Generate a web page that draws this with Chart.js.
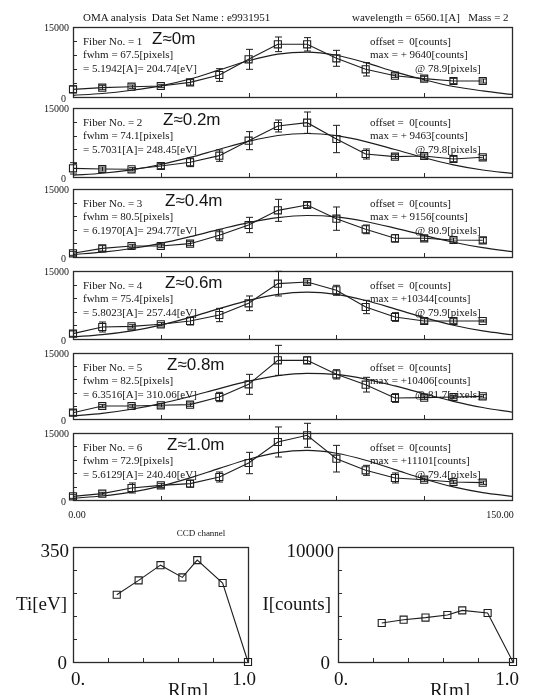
<!DOCTYPE html>
<html>
<head>
<meta charset="utf-8">
<script src="https://cdn.jsdelivr.net/npm/chart.js"></script>
<style>
  body { margin: 0; background: #fff; width: 548px; height: 695px; position: relative; overflow: hidden; }
  canvas { position: absolute; left: 0; }
  .t { position: absolute; white-space: pre; color: #151515; font-family: "Liberation Serif", serif; line-height: 1; }
  .z { font-family: "Liberation Sans", sans-serif; }
</style>
</head>
<body>
<script>
  // CCD channel of each measured point, and of the fitted curve samples
  const channels = [0, 10, 20, 30, 40, 50, 60, 70, 80, 90, 100, 110, 120, 130, 140];
  const fitChannels = [0, 10, 20, 30, 40, 50, 60, 70, 80, 90, 100, 110, 120, 130, 140, 150];

  // counts per fiber, error bars, fitted curve
  const fiber1 = [1640, 2000, 2210, 2360, 3140, 4710, 8070, 11290, 11290, 8290, 5930, 4570, 3930, 3430, 3430];
  const err1 = [710, 430, 360, 360, 570, 1360, 2140, 1570, 1430, 1710, 1430, 360, 500, 570, 430];
  const fit1 = [360, 750, 1450, 2400, 3850, 5800, 7760, 9190, 9630, 8940, 7350, 5400, 3700, 2250, 1300, 550];

  const fiber2 = [1880, 1740, 1670, 2390, 3190, 4640, 7900, 11090, 11810, 8260, 5000, 4420, 4570, 3910, 4280];
  const err2 = [1230, 430, 360, 580, 940, 1230, 1960, 1300, 2320, 2970, 1090, 430, 430, 580, 430];
  const fit2 = [380, 810, 1560, 2710, 4250, 6040, 7760, 9020, 9460, 8980, 7700, 5970, 4190, 2650, 1520, 790];

  const fiber3 = [810, 1910, 2430, 2430, 2940, 4780, 7060, 10290, 11470, 8460, 6100, 4120, 4120, 3750, 3680];
  const err3 = [440, 590, 370, 370, 440, 1180, 1690, 2430, 590, 2570, 960, 810, 510, 440, 590];
  const fit3 = [560, 1070, 1870, 3020, 4480, 6090, 7600, 8700, 9150, 8840, 7830, 6370, 4760, 3260, 2050, 1190];

  const fiber4 = [1180, 2650, 2790, 3240, 3970, 5290, 7870, 12210, 12570, 10740, 7060, 4850, 3970, 3970, 3970];
  const err4 = [590, 1100, 370, 370, 880, 1470, 1620, 2720, 440, 1100, 1470, 960, 510, 510, 220];
  const fit4 = [460, 960, 1800, 3070, 4760, 6690, 8530, 9860, 10340, 9840, 8490, 6650, 4720, 3040, 1780, 940];

  const fiber5 = [1440, 2950, 2950, 3110, 3260, 5000, 7880, 13330, 13330, 10150, 7800, 4770, 4850, 5000, 5150];
  const err5 = [610, 380, 380, 380, 380, 1060, 2270, 3410, 760, 1060, 1670, 990, 380, 380, 380];
  const fit5 = [690, 1280, 2210, 3500, 5120, 6910, 8590, 9840, 10390, 10120, 9080, 7510, 5720, 4020, 2610, 1560];

  const fiber6 = [820, 1420, 2690, 3280, 3660, 5150, 8280, 12990, 14480, 9250, 6640, 4930, 4550, 4030, 3880];
  const err6 = [450, 300, 1120, 450, 750, 1120, 2390, 3360, 2690, 2980, 1120, 1120, 370, 370, 370];
  const fit6 = [410, 900, 1760, 3110, 4940, 7070, 9120, 10600, 11100, 10470, 8900, 6810, 4700, 2920, 1640, 830];

  // radial profiles (bottom)
  const rPositions = [0.25, 0.375, 0.5, 0.625, 0.71, 0.855, 1.0];
  const tiValues = [204.74, 248.45, 294.77, 257.44, 310.06, 240.40, 0];
  const intensity = [3390, 3680, 3860, 4090, 4490, 4260, 0];

  // tick values
  const countTicks = [0, 3000, 6000, 9000, 12000, 15000];
  const channelTicks = [0, 30, 60, 90, 120, 150];
  const tiTicks = [0, 70, 140, 210, 280, 350];
  const iTicks = [0, 2000, 4000, 6000, 8000, 10000];
  const rTicks = [0, 0.2, 0.4, 0.6, 0.8, 1.0];

  // panel texts
  const fiberLabels = ['Fiber No. = 1', 'Fiber No. = 2', 'Fiber No. = 3', 'Fiber No. = 4', 'Fiber No. = 5', 'Fiber No. = 6'];
  const zLabels = ['Z≈0m', 'Z≈0.2m', 'Z≈0.4m', 'Z≈0.6m', 'Z≈0.8m', 'Z≈1.0m'];
  const fwhmLabels = ['fwhm = 67.5[pixels]', 'fwhm = 74.1[pixels]', 'fwhm = 80.5[pixels]', 'fwhm = 75.4[pixels]', 'fwhm = 82.5[pixels]', 'fwhm = 72.9[pixels]'];
  const widthLabels = ['= 5.1942[A]= 204.74[eV]', '= 5.7031[A]= 248.45[eV]', '= 6.1970[A]= 294.77[eV]', '= 5.8023[A]= 257.44[eV]', '= 6.3516[A]= 310.06[eV]', '= 5.6129[A]= 240.40[eV]'];
  const maxLabels = ['max = + 9640[counts]', 'max = + 9463[counts]', 'max = + 9156[counts]', 'max = +10344[counts]', 'max = +10406[counts]', 'max = +11101[counts]'];
  const peakLabels = ['@ 78.9[pixels]', '@ 79.8[pixels]', '@ 80.9[pixels]', '@ 79.9[pixels]', '@ 81.7[pixels]', '@ 79.4[pixels]'];

  const fibers = [fiber1, fiber2, fiber3, fiber4, fiber5, fiber6];
  const errs = [err1, err2, err3, err4, err5, err6];
  const fits = [fit1, fit2, fit3, fit4, fit5, fit6];

  // layout
  const panelTops = [27, 108, 189, 271, 353, 433];
  const panelBottoms = [97, 177, 257, 339, 419, 500];
  const zX = [152, 163, 165, 165, 167, 167];
  const INK = '#1e1e1e';

  const framePlugin = {
    id: 'frame',
    beforeDatasetsDraw(chart, args, opts) {
      const { ctx, chartArea: a, scales: { x, y } } = chart;
      ctx.save();
      ctx.strokeStyle = '#2b2b2b';
      ctx.lineWidth = 1.3;
      ctx.strokeRect(a.left + 0.5, a.top + 0.5, a.right - a.left, a.bottom - a.top);
      ctx.lineWidth = 1;
      ctx.beginPath();
      opts.yTicks.forEach(v => {
        const py = Math.round(y.getPixelForValue(v)) + 0.5;
        ctx.moveTo(a.left, py); ctx.lineTo(a.left + 4, py);
      });
      opts.xTicks.forEach(v => {
        const px = Math.round(x.getPixelForValue(v)) + 0.5;
        ctx.moveTo(px, a.bottom); ctx.lineTo(px, a.bottom - 4);
      });
      ctx.stroke();
      ctx.restore();
    }
  };

  const errorBarPlugin = {
    id: 'errorBars',
    afterDatasetsDraw(chart) {
      const { ctx, scales: { y } } = chart;
      ctx.save();
      ctx.strokeStyle = INK;
      ctx.lineWidth = 1;
      chart.data.datasets.forEach((ds, i) => {
        if (!ds.errorBars) return;
        chart.getDatasetMeta(i).data.forEach((pt, j) => {
          const v = ds.data[j].y, e = ds.errorBars[j];
          const y1 = y.getPixelForValue(v + e), y2 = y.getPixelForValue(v - e);
          const px = Math.round(pt.x) + 0.5;
          ctx.beginPath();
          ctx.moveTo(px, y1); ctx.lineTo(px, y2);
          ctx.moveTo(px - 3.5, y1); ctx.lineTo(px + 3.5, y1);
          ctx.moveTo(px - 3.5, y2); ctx.lineTo(px + 3.5, y2);
          ctx.stroke();
        });
      });
      ctx.restore();
    }
  };

  function makeChart(box, xRange, yRange, datasets, xTicks, yTicks) {
    const pad = 12;
    const c = document.createElement('canvas');
    c.width = 548;
    c.height = box.bottom - box.top + 2 * pad;
    c.style.top = (box.top - pad) + 'px';
    document.body.appendChild(c);
    return new Chart(c, {
      type: 'line',
      data: { datasets },
      options: {
        responsive: false,
        animation: false,
        devicePixelRatio: 1,
        layout: { padding: { left: box.left, right: 548 - box.right, top: pad, bottom: pad } },
        scales: {
          x: { type: 'linear', display: false, min: xRange[0], max: xRange[1] },
          y: { type: 'linear', display: false, min: yRange[0], max: yRange[1] }
        },
        plugins: {
          legend: { display: false },
          tooltip: { enabled: false },
          frame: { xTicks, yTicks }
        }
      },
      plugins: [framePlugin, errorBarPlugin]
    });
  }

  function markerSet(xs, ys, extra) {
    return Object.assign({
      data: xs.map((x, i) => ({ x, y: ys[i] })),
      borderColor: INK,
      borderWidth: 1.1,
      tension: 0,
      pointStyle: 'rect',
      pointRadius: 5,
      pointBorderWidth: 1.1,
      pointBorderColor: INK,
      pointBackgroundColor: 'rgba(0,0,0,0)',
      clip: false
    }, extra || {});
  }

  function text(str, x, y, size, align, cls) {
    const d = document.createElement('div');
    d.className = 't' + (cls ? ' ' + cls : '');
    d.textContent = str;
    d.style.fontSize = size + 'px';
    d.style.top = (y - size / 2) + 'px';
    if (align === 'right') d.style.right = (548 - x) + 'px';
    else if (align === 'center') { d.style.left = x + 'px'; d.style.transform = 'translateX(-50%)'; }
    else d.style.left = x + 'px';
    document.body.appendChild(d);
  }

  // six fiber panels
  for (let p = 0; p < 6; p++) {
    const T = panelTops[p], B = panelBottoms[p];
    makeChart({ left: 73, right: 512, top: T, bottom: B }, [0, 150], [0, 15000], [
      {
        data: fitChannels.map((x, i) => ({ x, y: fits[p][i] })),
        borderColor: INK, borderWidth: 1.2, pointRadius: 0,
        cubicInterpolationMode: 'monotone'
      },
      markerSet(channels, fibers[p], { errorBars: errs[p] })
    ], channelTicks, countTicks);

    text('15000', 69, T + 1, 10, 'right');
    text('0', 66, B + 2, 10, 'right');
    text(fiberLabels[p], 83, T + 14, 11);
    text(fwhmLabels[p], 83, T + 27.5, 11);
    text(widthLabels[p], 83, T + 41, 11);
    text(zLabels[p], zX[p], T + 11, 17, 'left', 'z');
    text('offset =  0[counts]', 370, T + 14, 11);
    text(maxLabels[p], 370, T + 27.5, 11);
    text(peakLabels[p], 415, T + 41, 11);
  }

  text('OMA analysis  Data Set Name : e9931951', 83, 17, 11);
  text('wavelength = 6560.1[A]   Mass = 2', 352, 17, 11);
  text('0.00', 77, 515, 10, 'center');
  text('150.00', 500, 515, 10, 'center');
  text('CCD channel', 201, 533, 9, 'center');

  // radial profiles
  makeChart({ left: 73, right: 248, top: 547, bottom: 662 }, [0, 1], [0, 350],
    [markerSet(rPositions, tiValues)], rTicks, tiTicks);
  makeChart({ left: 338, right: 513, top: 547, bottom: 662 }, [0, 1], [0, 10000],
    [markerSet(rPositions, intensity)], rTicks, iTicks);

  text('350', 69, 550, 19, 'right');
  text('Ti[eV]', 67, 603, 19, 'right');
  text('0', 67, 662, 19, 'right');
  text('0.', 78, 678, 19, 'center');
  text('1.0', 244, 678, 19, 'center');
  text('R[m]', 188, 689, 19, 'center');

  text('10000', 334, 550, 19, 'right');
  text('I[counts]', 331, 603, 19, 'right');
  text('0', 330, 662, 19, 'right');
  text('0.', 341, 678, 19, 'center');
  text('1.0', 507, 678, 19, 'center');
  text('R[m]', 450, 689, 19, 'center');
</script>
</body>
</html>
